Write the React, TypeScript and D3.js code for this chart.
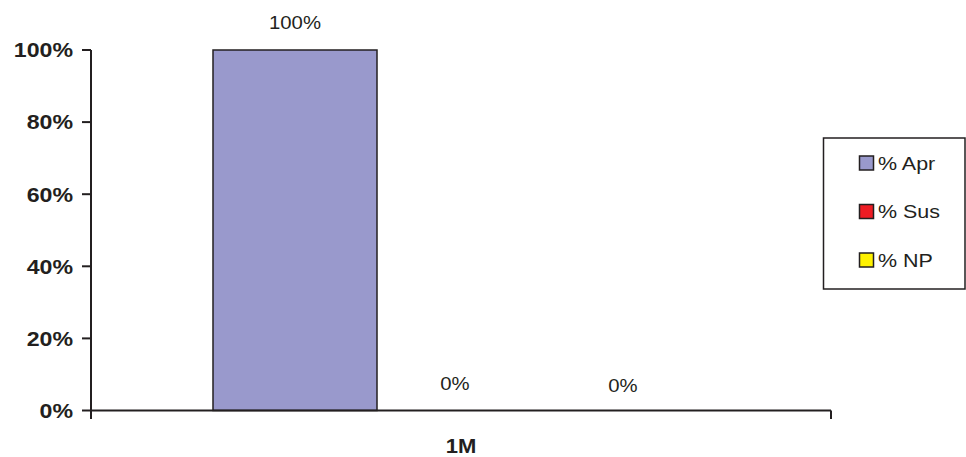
import React from "react";
import * as d3 from "d3";

const categories = ["1M"];
const seriesNames = ["% Apr", "% Sus", "% NP"];
const seriesColors = ["#9999CC", "#EE1C24", "#FFF200"];
const apr = [100];
const sus = [0];
const np = [0];
const yTicks = [0, 20, 40, 60, 80, 100];

const W = 966;
const H = 457;
const left = 91;
const right = 831;
const top = 50;
const bottom = 410.5;
const ink = "#231f20";
const font = "Liberation Sans, Arial, sans-serif";
const SX = 1.13;

function T(props: { x: number; y: number; anchor?: string; size: number; bold?: boolean; children: React.ReactNode; dy?: string }) {
  return (
    <g transform={`translate(${props.x},${props.y}) scale(${SX},1)`}>
      <text
        x={0}
        y={0}
        dy={props.dy}
        textAnchor={props.anchor || "start"}
        fontFamily={font}
        fontWeight={props.bold ? "bold" : "normal"}
        fontSize={props.size}
        fill={ink}
      >
        {props.children}
      </text>
    </g>
  );
}

export default function App() {
  const series = [apr, sus, np];
  const y = d3.scaleLinear().domain([0, 100]).range([bottom, top]);
  const x0 = d3.scaleBand().domain(categories).range([left, right]).paddingInner(0).paddingOuter(0);
  const inner = d3.scaleBand().domain(seriesNames).range([122, x0.bandwidth() - 126]).padding(0);

  return (
    <svg width={W} height={H} style={{ position: "absolute", left: 0, top: 0 }}>
      <rect x={0} y={0} width={W} height={H} fill="#fff" />
      {categories.map((c, ci) =>
        series.map((s, si) => {
          const bx = (x0(c) as number) + (inner(seriesNames[si]) as number);
          const bw = inner.bandwidth();
          const v = s[ci];
          const yTop = y(v);
          return (
            <g key={`${c}-${si}`}>
              {v > 0 && (
                <rect
                  x={bx}
                  y={yTop}
                  width={bw}
                  height={bottom - yTop}
                  fill={seriesColors[si]}
                  stroke={ink}
                  strokeWidth={1.5}
                />
              )}
              <T
                x={bx + bw / 2 - (si === 1 ? 4 : 0)}
                y={v > 0 ? yTop - 21 : bottom - (si === 1 ? 21 : 19)}
                anchor="middle"
                size={18}
              >
                {v}%
              </T>
            </g>
          );
        })
      )}
      {/* y axis */}
      <line x1={left} x2={left} y1={top} y2={bottom + 8.5} stroke={ink} strokeWidth={2} />
      {yTicks.map((t) => (
        <g key={t}>
          <line x1={left - 9} x2={left} y1={y(t)} y2={y(t)} stroke={ink} strokeWidth={2} />
          <T x={73} y={y(t)} dy="0.36em" anchor="end" size={20.5} bold>
            {t}%
          </T>
        </g>
      ))}
      {/* x axis */}
      <line x1={left} x2={right} y1={bottom} y2={bottom} stroke={ink} strokeWidth={2} />
      <line x1={right} x2={right} y1={bottom} y2={bottom + 8.5} stroke={ink} strokeWidth={2} />
      {categories.map((c) => (
        <T key={c} x={(x0(c) as number) + x0.bandwidth() / 2} y={453} anchor="middle" size={19.5} bold>
          {c}
        </T>
      ))}
      {/* legend */}
      <rect x={823.5} y={138} width={141.5} height={151} fill="#fff" stroke={ink} strokeWidth={1.5} />
      {seriesNames.map((n, i) => {
        const cy = 163 + i * 48.5;
        return (
          <g key={n}>
            <rect x={859.5} y={cy - 7} width={14} height={14} fill={seriesColors[i]} stroke={ink} strokeWidth={1.5} />
            <T x={878} y={cy} dy="0.36em" size={19}>
              {n}
            </T>
          </g>
        );
      })}
    </svg>
  );
}
